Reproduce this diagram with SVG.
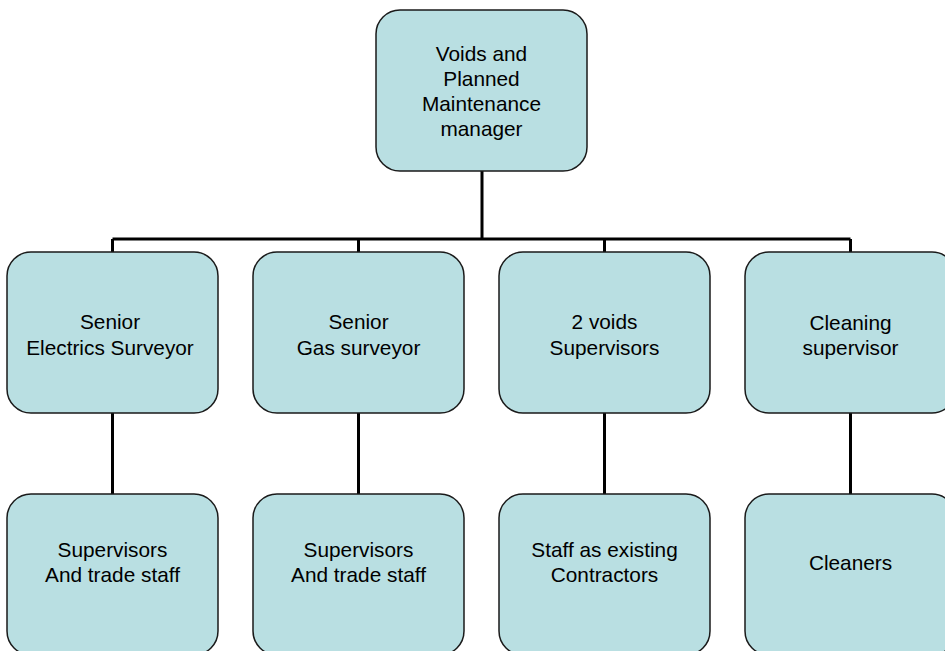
<svg xmlns="http://www.w3.org/2000/svg" width="945" height="651" viewBox="0 0 945 651">
  <style>
    .box { fill: #b9dfe2; stroke: #1a1a1a; stroke-width: 1.5; }
    .lbl { font-family: "Liberation Sans", Arial, sans-serif; font-size: 20.8px; fill: #000; text-anchor: middle; }
    .wire { fill: none; stroke: #000; stroke-width: 3; }
  </style>
  <rect width="945" height="651" fill="#fff"/>

  <!-- connectors -->
  <g id="connectors">
    <path class="wire" d="M482 171 V239 M112.5 239 H850.5"/>
    <path class="wire" d="M112.5 239 V252 M358.5 239 V252 M604.5 239 V252 M850.5 239 V252"/>
    <path class="wire" d="M112.5 413 V494 M358.5 413 V494 M604.5 413 V494 M850.5 413 V494"/>
  </g>

  <!-- top level -->
  <g id="manager">
    <rect class="box" x="376" y="10" width="211" height="161" rx="24"/>
    <text class="lbl" x="481.5" y="61">Voids and</text>
    <text class="lbl" x="481.5" y="86">Planned</text>
    <text class="lbl" x="481.5" y="111">Maintenance</text>
    <text class="lbl" x="481.5" y="136">manager</text>
  </g>

  <!-- second level -->
  <g id="electrics-surveyor">
    <rect class="box" x="7" y="252" width="211" height="161" rx="24"/>
    <text class="lbl" x="110" y="329">Senior</text>
    <text class="lbl" x="110" y="355">Electrics Surveyor</text>
  </g>
  <g id="gas-surveyor">
    <rect class="box" x="253" y="252" width="211" height="161" rx="24"/>
    <text class="lbl" x="358.5" y="329">Senior</text>
    <text class="lbl" x="358.5" y="355">Gas surveyor</text>
  </g>
  <g id="voids-supervisors">
    <rect class="box" x="499" y="252" width="211" height="161" rx="24"/>
    <text class="lbl" x="604.5" y="329">2 voids</text>
    <text class="lbl" x="604.5" y="355">Supervisors</text>
  </g>
  <g id="cleaning-supervisor">
    <rect class="box" x="745" y="252" width="211" height="161" rx="24"/>
    <text class="lbl" x="850.5" y="330">Cleaning</text>
    <text class="lbl" x="850.5" y="355">supervisor</text>
  </g>

  <!-- third level -->
  <g id="electrics-staff">
    <rect class="box" x="7" y="494" width="211" height="161" rx="24"/>
    <text class="lbl" x="112.5" y="557">Supervisors</text>
    <text class="lbl" x="112.5" y="582">And trade staff</text>
  </g>
  <g id="gas-staff">
    <rect class="box" x="253" y="494" width="211" height="161" rx="24"/>
    <text class="lbl" x="358.5" y="557">Supervisors</text>
    <text class="lbl" x="358.5" y="582">And trade staff</text>
  </g>
  <g id="voids-staff">
    <rect class="box" x="499" y="494" width="211" height="161" rx="24"/>
    <text class="lbl" x="604.5" y="557">Staff as existing</text>
    <text class="lbl" x="604.5" y="582">Contractors</text>
  </g>
  <g id="cleaners">
    <rect class="box" x="745" y="494" width="211" height="161" rx="24"/>
    <text class="lbl" x="850.5" y="570">Cleaners</text>
  </g>
</svg>
